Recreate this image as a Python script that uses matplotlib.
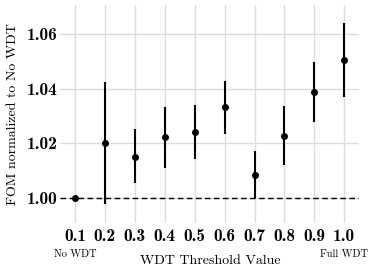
import matplotlib
matplotlib.use("Agg")
import matplotlib.pyplot as plt

thresholds = [0.1, 0.2, 0.3, 0.4, 0.5, 0.6, 0.7, 0.8, 0.9, 1.0]
fom = [1.000, 1.020, 1.0151, 1.0222, 1.0243, 1.0333, 1.0084, 1.0228, 1.0388, 1.0506]
upper = [1.000, 1.0426, 1.0252, 1.0332, 1.0340, 1.0428, 1.0172, 1.0336, 1.0498, 1.0641]
lower = [1.000, 0.9978, 1.0054, 1.0111, 1.0143, 1.0236, 1.0000, 1.0121, 1.0279, 1.0371]
xtick_labels = ["0.1", "0.2", "0.3", "0.4", "0.5", "0.6", "0.7", "0.8", "0.9", "1.0"]
yticks = [1.00, 1.02, 1.04, 1.06]
ytick_labels = ["1.00", "1.02", "1.04", "1.06"]

plt.rcParams['axes.formatter.use_mathtext'] = True
fig = plt.figure(figsize=(3.74, 2.68), dpi=100)
ax = fig.add_axes([0.1604, 0.168, 0.7986, 0.813])

for x in thresholds:
    ax.axvline(x, color="#dcdcdc", lw=1.0, zorder=0)
for y in yticks:
    ax.axhline(y, color="#dcdcdc", lw=1.0, zorder=0)

ax.axhline(1.0, color="black", lw=1.0, ls=(0, (4, 2.5)), zorder=1)
ax.vlines(thresholds, lower, upper, color="black", lw=1.5, zorder=2)
ax.scatter(thresholds, fom, s=16, color="black", zorder=3)

ax.set_xlim(0.05, 1.048)
ax.set_ylim(0.9909, 1.0706)

for s in ax.spines.values():
    s.set_visible(False)
ax.tick_params(axis="x", length=0, pad=10)
ax.tick_params(axis="y", length=0, pad=1.5)
ax.set_xticks(thresholds)
ax.set_xticklabels(xtick_labels, family="cmb10", fontsize=12.5, va="center")
ax.set_yticks(yticks)
ax.set_yticklabels(ytick_labels, family="cmb10", fontsize=12.5)

fig.text(13/374, 1 - 114.5/268, "FOM normalized to No WDT", family="cmr10", fontsize=10,
         rotation=90, ha="center", va="center")
fig.text(0.5615, 1 - 263.5/268, "WDT Threshold Value", family="cmr10", fontsize=10,
         ha="center", va="baseline")
fig.text(75/374, 1 - 254/268, "No WDT", family="cmr10", fontsize=7.5, ha="center", va="center")
fig.text(344/374, 1 - 254/268, "Full WDT", family="cmr10", fontsize=7.5, ha="center", va="center")

fig.savefig("out.png", dpi=100)
